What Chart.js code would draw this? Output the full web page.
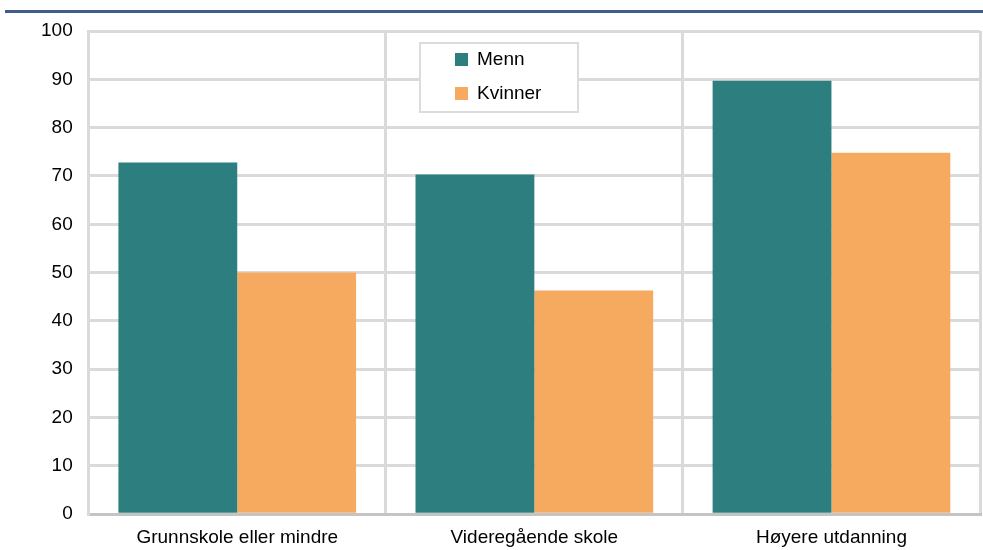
<!DOCTYPE html>
<html>
<head>
<meta charset="utf-8">
<script src="https://cdn.jsdelivr.net/npm/chart.js@4/dist/chart.umd.min.js"></script>
<style>
    html, body { margin: 0; padding: 0; background: #fff; }
    .wrap { position: relative; width: 983px; height: 550px; }
    .topline { position: absolute; left: 5px; right: 0; top: 10px; height: 3px; background: #3f5d8c; }
    canvas { position: absolute; left: 0; top: 0; }
</style>
</head>
<body>
<div class="wrap">
    <canvas id="eduChart" width="983" height="550"></canvas>
    <div class="topline"></div>
</div>
<script>
// data
var categories = ['Grunnskole eller mindre', 'Videregående skole', 'Høyere utdanning'];
var menn = [72.8, 70.3, 89.7];
var kvinner = [50.0, 46.3, 74.8];
var yTicks = [0, 10, 20, 30, 40, 50, 60, 70, 80, 90, 100];

var FONT = '"Liberation Sans", Arial, sans-serif';

// boxed legend drawn inside the plot
var boxLegend = {
    id: 'boxLegend',
    afterDraw: function(chart) {
        var c = chart.ctx;
        var x = 420, y = 43, w = 158, h = 69;
        c.save();
        c.fillStyle = '#ffffff';
        c.fillRect(x, y, w, h);
        c.strokeStyle = '#dcdcdc';
        c.lineWidth = 2;
        c.strokeRect(x, y, w, h);
        c.font = '19px ' + FONT;
        c.textBaseline = 'middle';
        chart.data.datasets.forEach(function(ds, i) {
            var cy = y + 16 + i * 34;
            c.fillStyle = ds.backgroundColor;
            c.fillRect(x + 35, cy - 6, 13, 13);
            c.fillStyle = '#000000';
            c.fillText(ds.label, x + 57, cy + 1);
        });
        c.restore();
    }
};

new Chart(document.getElementById('eduChart'), {
    type: 'bar',
    data: {
        labels: categories,
        datasets: [{
            label: 'Menn',
            data: menn,
            backgroundColor: '#2d7f7f',
            barPercentage: 1,
            categoryPercentage: 0.8
        }, {
            label: 'Kvinner',
            data: kvinner,
            backgroundColor: '#f6aa5f',
            barPercentage: 1,
            categoryPercentage: 0.8
        }]
    },
    options: {
        responsive: false,
        animation: false,
        layout: { padding: { top: 31, right: 3, left: 25, bottom: -11 } },
        plugins: {
            legend: { display: false },
            tooltip: { enabled: false }
        },
        scales: {
            x: {
                offset: true,
                grid: {
                    offset: true,
                    color: '#dadada',
                    lineWidth: 3,
                    drawTicks: false
                },
                border: { color: '#c4c4c4', width: 3 },
                ticks: {
                    color: '#000',
                    padding: 12,
                    font: { family: FONT, size: 19 }
                }
            },
            y: {
                min: 0,
                max: 100,
                afterBuildTicks: function(axis) {
                    axis.ticks = yTicks.map(function(v) { return { value: v }; });
                },
                grid: {
                    color: '#dadada',
                    lineWidth: 3,
                    drawTicks: false
                },
                border: { color: '#dadada', width: 3 },
                ticks: {
                    color: '#000',
                    padding: 16,
                    font: { family: FONT, size: 19 }
                }
            }
        }
    },
    plugins: [boxLegend]
});
</script>
</body>
</html>
